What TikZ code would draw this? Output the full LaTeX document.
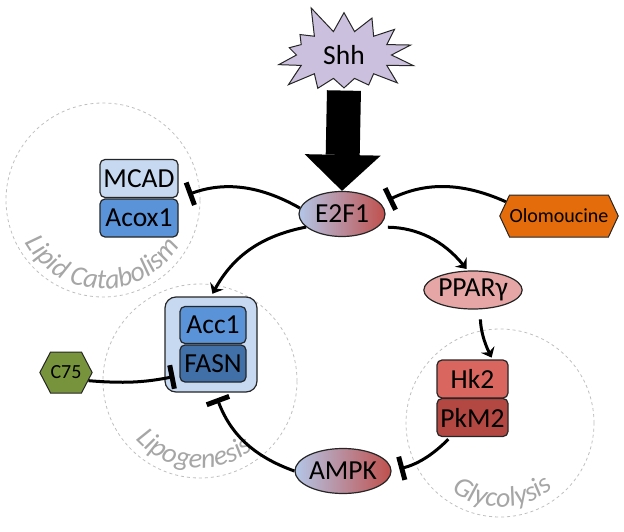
\documentclass[tikz,border=0pt]{standalone}
\usepackage{fontspec}
\setmainfont{Carlito}
\usetikzlibrary{arrows.meta,shapes.symbols,shapes.geometric,decorations.text}

\definecolor{shhfill}{HTML}{CBC0DD}
\definecolor{lightblue}{HTML}{C6D9F1}
\definecolor{midblue}{HTML}{5A93D8}
\definecolor{darkblue}{HTML}{4170A8}
\definecolor{gradblue}{HTML}{B3C6E7}
\definecolor{gradred}{HTML}{C0504D}
\definecolor{ppfill}{HTML}{E6A6A6}
\definecolor{hkfill}{HTML}{D9675F}
\definecolor{pkmfill}{HTML}{B34842}
\definecolor{olofill}{HTML}{E46C0A}
\definecolor{c75fill}{HTML}{77933C}
\definecolor{areagray}{HTML}{BFBFBF}
\definecolor{labelgray}{HTML}{A6A6A6}

\newcommand{\nodefont}{\fontsize{27.5}{31}\selectfont}
\newcommand{\drugfont}{\fontsize{20}{23}\selectfont}
\newcommand{\areafont}{\fontsize{28}{32}\selectfont\itshape}

\tikzset{
  area/.style={draw=areagray, dashed, line width=0.8pt},
  box/.style={draw=black!85, line width=1.2pt, rounded corners=5pt, inner sep=0pt,
    minimum width=78pt, minimum height=38pt, font=\nodefont},
  outerbox/.style={draw=black!85, line width=1.2pt, rounded corners=11pt, fill=lightblue,
    minimum width=92pt, minimum height=95pt},
  oval/.style={ellipse, draw=black!85, line width=1.2pt, inner sep=0pt, font=\nodefont},
  gradnode/.style={oval, left color=gradblue, right color=gradred,
    minimum width=86pt, minimum height=45pt},
  drug/.style={signal, signal to=west and east, draw=black!85, line width=1pt,
    inner sep=0pt, font=\drugfont},
  act/.style={line width=3pt, -{Stealth[length=9pt,width=15pt,inset=3pt]}},
  inh/.style={line width=3pt, -{Bar[width=24pt,line width=5pt]}},
  bigarrow/.style={line width=34pt, -{Triangle[length=36pt,width=76pt,line width=0pt]}},
}

\begin{document}
\begin{tikzpicture}[x=1pt,y=1pt]
\useasboundingbox (0,0) rectangle (624,-532);

% pathway areas
\draw[area] (103,-200) circle (97);
\draw[area] (200,-381) circle (97);
\draw[area] (500,-423) circle (94);
{\areafont
\path[decorate, decoration={text along path, text align=center, text color=labelgray,
  text={Lipid Catabolism}}] (103,-200) ++(204:89) arc[start angle=204, end angle=334, radius=89];
\path[decorate, decoration={text along path, text align=center, text color=labelgray,
  text={Lipogenesis}}] (200,-381) ++(214:87) arc[start angle=214, end angle=316, radius=87];
\path[decorate, decoration={text along path, text align=center, text color=labelgray,
  text={Glycolysis}}] (500,-423) ++(230:84) arc[start angle=230, end angle=314, radius=84];
}

% nodes
\node[starburst, starburst points=14, starburst point height=30pt, random starburst=5,
  draw=black!85, line width=1pt, fill=shhfill, font=\nodefont,
  minimum width=155pt, minimum height=108pt, inner sep=0pt] (shh) at (344,-55) {Shh};
\node[gradnode] (e2f1) at (342,-214) {E2F1};
\node[box, fill=lightblue] (mcad) at (139,-178.5) {MCAD};
\node[box, fill=midblue] (acox) at (139,-218) {Acox1};
\node[outerbox] (accbox) at (211,-344.5) {};
\node[box, fill=midblue, minimum width=66pt, minimum height=37pt] (acc) at (213,-325) {Acc1};
\node[box, fill=darkblue, minimum width=66pt, minimum height=37pt] (fasn) at (213,-363.5) {FASN};
\node[drug, fill=olofill, minimum width=108pt, minimum height=42pt, signal pointer angle=130] (olomoucine) at (559,-216) {Olomoucine};
\node[drug, fill=c75fill, minimum width=52pt, minimum height=41pt, signal pointer angle=125] (ctf) at (66,-372.5) {C75};
\node[oval, fill=ppfill, minimum width=78pt, minimum height=38pt] (pparg) at (473,-290) {PPARγ};
\node[box, fill=hkfill, minimum width=71pt] (hk) at (472.5,-379) {Hk2};
\node[box, fill=pkmfill, minimum width=71pt] (pkm) at (472.5,-417.5) {PkM2};
\node[gradnode] (ampk) at (343,-471) {AMPK};

% connectors
\draw[bigarrow, shorten <=2pt] (shh.south) -- (e2f1.north);
\draw[inh, shorten >=10pt] (e2f1.172) to[bend right=25] (mcad.south east);
\draw[act, shorten >=3pt] (e2f1.200) to[bend right=25] (accbox.north);
\draw[inh, shorten >=8pt] (olomoucine.165) to[bend right=25] (e2f1.15);
\draw[act, shorten <=10pt, shorten >=2pt] (e2f1.-20) to[bend left=25] (pparg.105);
\draw[act, shorten <=10pt, shorten >=2pt] (pparg.-70) to[bend right=12] ([xshift=20pt]hk.north);
\draw[inh, shorten <=3pt, shorten >=8pt] ([xshift=-22pt]pkm.south) to[bend left=15] (ampk.east);
\draw[inh, shorten >=6pt] (ampk.west) to[bend left=25] ([xshift=4pt]accbox.south);
\draw[inh, shorten >=5pt] (ctf.-20) to[bend right=8] ([yshift=-12pt]fasn.west);
\end{tikzpicture}
\end{document}
